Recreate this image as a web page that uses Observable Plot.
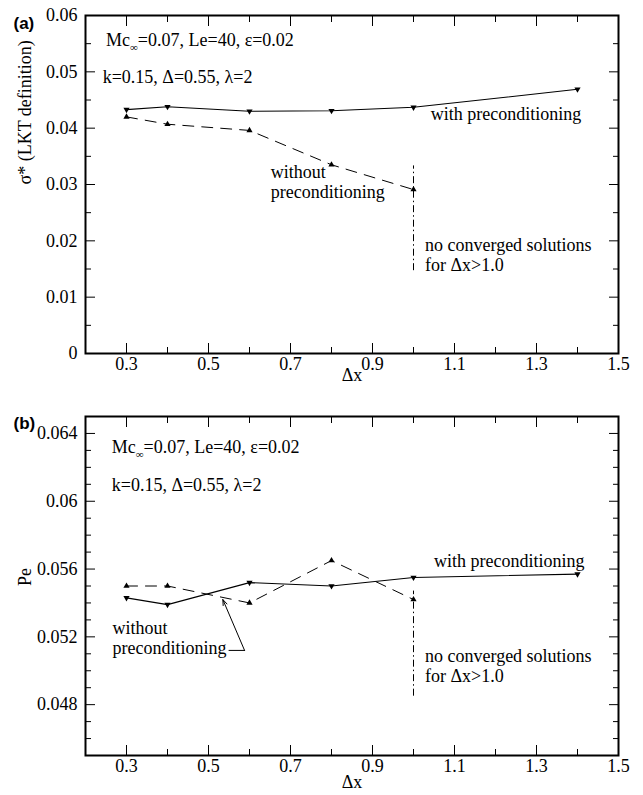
<!DOCTYPE html>
<html>
<head>
<meta charset="utf-8">
<script src="https://cdn.jsdelivr.net/npm/d3@7"></script>
<script src="https://cdn.jsdelivr.net/npm/@observablehq/plot@0.6"></script>
<style>
  html, body { margin: 0; padding: 0; background: #fff; }
  #chart { width: 643px; }
  #chart svg { display: block; }
</style>
</head>
<body>
<div id="chart"></div>
<script>
// Grid spacing Δx of the runs
const dxWith = [0.3, 0.4, 0.6, 0.8, 1.0, 1.4];
const dxWithout = [0.3, 0.4, 0.6, 0.8, 1.0];

// (a) growth rate σ* (LKT definition)
const sigmaWith = [0.0433, 0.0438, 0.0430, 0.0431, 0.0437, 0.0469];
const sigmaWithout = [0.0420, 0.0407, 0.0396, 0.0335, 0.0291];

// (b) Péclet number Pe
const peWith = [0.0543, 0.0539, 0.0552, 0.0550, 0.0555, 0.0557];
const peWithout = [0.0550, 0.0550, 0.0540, 0.0565, 0.0542];

// Axis ticks and labels
const xMajor = [0.3, 0.5, 0.7, 0.9, 1.1, 1.3, 1.5];
const xLabels = ["0.3", "0.5", "0.7", "0.9", "1.1", "1.3", "1.5"];
const xMinor = [0.4, 0.6, 0.8, 1.0, 1.2, 1.4];
const yMajorA = [0, 0.01, 0.02, 0.03, 0.04, 0.05, 0.06];
const yLabelsA = ["0", "0.01", "0.02", "0.03", "0.04", "0.05", "0.06"];
const yMinorA = [0.005, 0.015, 0.025, 0.035, 0.045, 0.055];
const yMajorB = [0.048, 0.052, 0.056, 0.06, 0.064];
const yLabelsB = ["0.048", "0.052", "0.056", "0.06", "0.064"];
const yMinorB = [0.046, 0.047, 0.049, 0.05, 0.051, 0.053, 0.054, 0.055, 0.057, 0.058, 0.059, 0.061, 0.062, 0.063];

// Text
const paramText = ["Mc∞=0.07, Le=40, ε=0.02", "k=0.15, Δ=0.55, λ=2"];
const withText = "with preconditioning";
const withoutText = "without\npreconditioning";
const limitText = "no converged solutions\nfor Δx>1.0";

// Annotation anchors (data units)
const notesA = [
  {x: 0.250, y: 0.0557, text: paramText[0]},
  {x: 0.242, y: 0.0492, text: paramText[1]},
  {x: 1.042, y: 0.0426, text: withText},
  {x: 0.652, y: 0.0305, text: withoutText},
  {x: 1.028, y: 0.0175, text: limitText}
];
const notesB = [
  {x: 0.264, y: 0.0632, text: paramText[0]},
  {x: 0.264, y: 0.0610, text: paramText[1]},
  {x: 1.050, y: 0.0565, text: withText},
  {x: 0.266, y: 0.05195, text: withoutText},
  {x: 1.028, y: 0.0503, text: limitText}
];
// Last converged Δx for the unpreconditioned solver
const limitA = [{x: 1.0, y1: 0.0147, y2: 0.0333}];
const limitB = [{x: 1.0, y1: 0.0485, y2: 0.0547}];
// Leader from the "without preconditioning" label in (b)
const leaderB = [{x: 0.550, y: 0.0512}, {x: 0.588, y: 0.0512}];
const arrowB = [{x1: 0.588, y1: 0.0512, x2: 0.535, y2: 0.0542}];

const serif = "'Liberation Serif', 'Times New Roman', serif";

function inwardTicks(anchor, ticks, size) {
  const opts = {anchor, tickSize: -size, fill: "none", stroke: "black", strokeWidth: 1, label: null};
  return anchor === "top" || anchor === "bottom" ? Plot.axisX(ticks, opts) : Plot.axisY(ticks, opts);
}

function panel(cfg) {
  const withData = dxWith.map((x, i) => ({x, y: cfg.withY[i]}));
  const withoutData = dxWithout.map((x, i) => ({x, y: cfg.withoutY[i]}));
  const marks = [
    inwardTicks("bottom", xMajor, 10), inwardTicks("bottom", xMinor, 6),
    inwardTicks("top", xMajor, 10), inwardTicks("top", xMinor, 6),
    inwardTicks("left", cfg.yMajor, 10), inwardTicks("left", cfg.yMinor, 6),
    inwardTicks("right", cfg.yMajor, 10), inwardTicks("right", cfg.yMinor, 6),
    Plot.axisX(xMajor, {anchor: "bottom", tickSize: 0, tickPadding: 4, fill: "black",
      tickFormat: d => xLabels[xMajor.indexOf(d)], label: null}),
    Plot.axisY(cfg.yMajor, {anchor: "left", tickSize: 0, tickPadding: 8, fill: "black",
      tickFormat: d => cfg.yLabels[cfg.yMajor.indexOf(d)], label: null}),
    Plot.text(["Δx"], {frameAnchor: "bottom", dy: cfg.xTitleDy, fill: "black"}),
    Plot.text([cfg.yTitle], {frameAnchor: "left", rotate: -90, dx: -60, fill: "black"}),
    Plot.text([cfg.tag], {frameAnchor: "top-left", dx: -72, dy: cfg.tagDy, textAnchor: "start",
      fontFamily: "'Liberation Sans', Arial, sans-serif", fontWeight: "bold", fontSize: 17, fill: "black"}),
    Plot.ruleX(cfg.limit, {x: "x", y1: "y1", y2: "y2", stroke: "black", strokeWidth: 1, strokeDasharray: "7,3,1.5,3"}),
    Plot.line(withoutData, {x: "x", y: "y", stroke: "black", strokeWidth: 1, strokeDasharray: "11,8"}),
    Plot.line(withData, {x: "x", y: "y", stroke: "black", strokeWidth: 1.1}),
    Plot.dot(withoutData, {x: "x", y: "y", symbol: "triangle", r: 2.3, fill: "black", stroke: "none"}),
    Plot.dot(withData, {x: "x", y: "y", symbol: "triangle", r: 2.3, rotate: 180, fill: "black", stroke: "none"}),
    Plot.text(cfg.notes, {x: "x", y: "y", text: "text", textAnchor: "start", lineAnchor: "middle", lineHeight: 1.1, fill: "black"}),
    Plot.frame({stroke: "black", strokeWidth: 2})
  ];
  if (cfg.leader) {
    marks.push(Plot.line(cfg.leader, {x: "x", y: "y", stroke: "black", strokeWidth: 1}));
    marks.push(Plot.arrow(cfg.arrow, {x1: "x1", y1: "y1", x2: "x2", y2: "y2", stroke: "black",
      strokeWidth: 1, headLength: 9, headAngle: 40}));
  }
  const svg = Plot.plot({
    width: 643, height: cfg.height,
    marginLeft: 85, marginRight: 25, marginTop: cfg.marginTop, marginBottom: cfg.marginBottom,
    x: {domain: [0.2, 1.5]},
    y: {domain: cfg.yDomain},
    style: {fontFamily: serif, fontSize: "18px", color: "black", background: "white", overflow: "visible"},
    marks
  });
  // Subscript ∞ in "Mc∞"
  d3.select(svg).selectAll("text").each(function () {
    const t = this.textContent;
    if (t.startsWith("Mc∞")) {
      const el = d3.select(this);
      el.text(null);
      el.append("tspan").text("Mc");
      el.append("tspan").attr("font-size", 11).attr("dy", 5).text("∞");
      el.append("tspan").attr("dy", -5).text(t.slice(3));
    }
  });
  return svg;
}

const chart = document.getElementById("chart");
chart.append(panel({
  height: 390, marginTop: 15, marginBottom: 37,
  yDomain: [0, 0.06], yMajor: yMajorA, yLabels: yLabelsA, yMinor: yMinorA,
  yTitle: "σ* (LKT definition)", tag: "(a)", tagDy: 1, xTitleDy: 27,
  withY: sigmaWith, withoutY: sigmaWithout, limit: limitA, notes: notesA
}));
chart.append(panel({
  height: 405, marginTop: 26, marginBottom: 40,
  yDomain: [0.045, 0.065], yMajor: yMajorB, yLabels: yLabelsB, yMinor: yMinorB,
  yTitle: "Pe", tag: "(b)", tagDy: 0, xTitleDy: 32,
  withY: peWith, withoutY: peWithout, limit: limitB, notes: notesB,
  leader: leaderB, arrow: arrowB
}));
</script>
</body>
</html>
